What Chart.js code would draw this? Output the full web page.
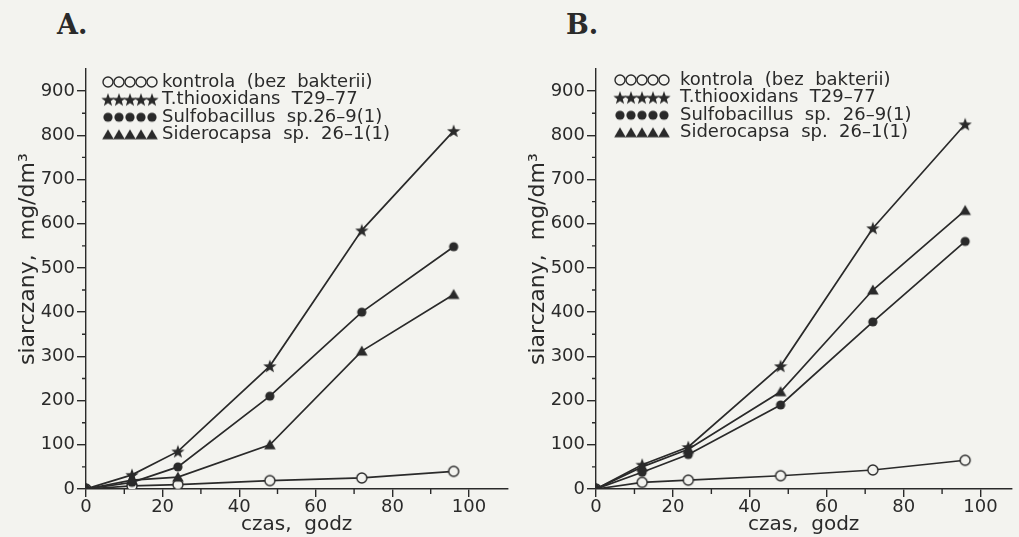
<!DOCTYPE html>
<html>
<head>
<meta charset="utf-8">
<script src="https://cdn.jsdelivr.net/npm/chart.js@4.4.0/dist/chart.umd.min.js"></script>
<style>
  body { margin: 0; background: #f3f3ef; overflow: hidden; width: 1019px; height: 537px; position: relative; }
  .panel { position: absolute; top: 0; height: 537px; }
  .lbl { position: absolute; font: bold 27px "DejaVu Serif", serif; color: #2a2a2a; }
</style>
</head>
<body>
<div class="lbl" style="left:57px;top:9px">A.</div>
<div class="lbl" style="left:566px;top:9px">B.</div>
<div class="panel" style="left:0;width:515px"><canvas id="chartA"></canvas></div>
<div class="panel" style="left:510px;width:509px"><canvas id="chartB"></canvas></div>

<script>
// czas w godzinach
const hours = [0, 12, 24, 48, 72, 96]

const seriesNames = ['kontrola  (bez  bakterii)', 'T.thiooxidans  T29\u201377', 'Sulfobacillus  sp.26\u20139(1)', 'Siderocapsa  sp.  26\u20131(1)']
const seriesNamesB = ['kontrola  (bez  bakterii)', 'T.thiooxidans  T29\u201377', 'Sulfobacillus  sp.  26\u20139(1)', 'Siderocapsa  sp.  26\u20131(1)']

// panel A
const kontrolaA = [0, 7, 10, 19, 25, 40]
const thioA = [0, 32, 85, 278, 585, 810]
const sulfoA = [0, 15, 50, 210, 400, 548]
const sideroA = [0, 20, 27, 100, 312, 440]

// panel B
const kontrolaB = [0, 15, 20, 30, 43, 65]
const thioB = [0, 55, 95, 278, 590, 825]
const sulfoB = [0, 38, 78, 190, 378, 560]
const sideroB = [0, 50, 90, 220, 450, 630]

const yTicks = [0, 100, 200, 300, 400, 500, 600, 700, 800, 900]
const xTicks = [0, 20, 40, 60, 80, 100]

const ink = '#2a2a2a'
const paper = '#f3f3ef'
const font = 'DejaVu Sans'

// marker images
function marker(kind) {
  const c = document.createElement('canvas')
  c.width = 14; c.height = 14
  const g = c.getContext('2d')
  g.fillStyle = ink; g.strokeStyle = ink; g.lineWidth = 1.4
  if (kind === 'open') {
    g.fillStyle = paper
    g.beginPath(); g.arc(7, 7, 5, 0, Math.PI * 2); g.fill(); g.stroke()
  } else if (kind === 'dot') {
    g.beginPath(); g.arc(7, 7, 4.6, 0, Math.PI * 2); g.fill()
  } else if (kind === 'tri') {
    g.beginPath(); g.moveTo(7, 1.5); g.lineTo(12.8, 11.5); g.lineTo(1.2, 11.5); g.closePath(); g.fill()
  } else {
    g.beginPath()
    for (let i = 0; i < 10; i++) {
      const r = i % 2 ? 2.9 : 7
      const a = -Math.PI / 2 + i * Math.PI / 5
      g.lineTo(7 + r * Math.cos(a), 7.6 + r * Math.sin(a))
    }
    g.closePath(); g.fill()
  }
  return c
}
const markers = [marker('open'), marker('star'), marker('dot'), marker('tri')]

const extras = {
  id: 'extras',
  afterDraw(chart, args, opts) {
    const {ctx, chartArea, scales: {x, y}} = chart
    ctx.save()
    ctx.strokeStyle = ink
    ctx.lineWidth = 1.4
    ctx.beginPath()
    for (let v = 50; v < 950; v += 100) {
      const py = y.getPixelForValue(v)
      ctx.moveTo(chartArea.left - 4, py); ctx.lineTo(chartArea.left, py)
    }
    for (let v = 10; v < 100; v += 20) {
      const px = x.getPixelForValue(v)
      ctx.moveTo(px, chartArea.bottom); ctx.lineTo(px, chartArea.bottom + 5)
    }
    ctx.stroke()
    ctx.fillStyle = ink
    // y title
    ctx.save()
    ctx.translate(28, y.getPixelForValue(520))
    ctx.rotate(-Math.PI / 2)
    ctx.font = '22px "' + font + '"'
    ctx.textAlign = 'center'
    ctx.textBaseline = 'middle'
    ctx.fillText('siarczany,  mg/dm\u00b3', 0, 0)
    ctx.restore()
    // legend
    ctx.font = '18px "' + font + '"'
    ctx.textBaseline = 'middle'
    opts.names.forEach((name, i) => {
      const ly = opts.top + i * 17.6
      for (let k = 0; k < 5; k++) {
        ctx.drawImage(markers[i], opts.left + k * 11 - 7, ly - 7)
      }
      ctx.fillText(name, opts.text, ly)
    })
    ctx.restore()
  }
}

function makeChart(id, vals, names, xMax, legend) {
  const datasets = vals.map((v, i) => ({
    label: names[i],
    data: hours.map((h, j) => ({x: h, y: v[j]})),
    borderColor: ink,
    borderWidth: 1.7,
    pointStyle: markers[i],
    pointRadius: 6,
    tension: 0
  }))
  return new Chart(document.getElementById(id), {
    type: 'line',
    data: {datasets: datasets.reverse()},
    plugins: [extras],
    options: {
      responsive: true,
      maintainAspectRatio: false,
      animation: false,
      layout: {padding: {top: 69, right: legend.right, left: 0, bottom: 0}},
      plugins: {
        legend: {display: false},
        tooltip: {enabled: false},
        extras: {names: names, left: legend.left, text: legend.text, top: legend.top}
      },
      scales: {
        x: {
          type: 'linear', min: 0, max: xMax,
          afterFit: s => { s.height = 48 },
          afterBuildTicks: s => { s.ticks = xTicks.map(v => ({value: v})) },
          grid: {drawOnChartArea: false, tickLength: 8, color: ink, lineWidth: 1.4},
          border: {color: ink, width: 1.4},
          ticks: {color: ink, font: {family: font, size: 18}, padding: 0, maxRotation: 0},
          title: {display: true, text: 'czas,  godz', color: ink, font: {family: font, size: 20}, padding: {top: 0, bottom: 0}}
        },
        y: {
          min: 0, max: 950,
          afterFit: s => { s.width = 86 },
          afterBuildTicks: s => { s.ticks = yTicks.map(v => ({value: v})) },
          grid: {drawOnChartArea: false, tickLength: 9, color: ink, lineWidth: 1.4},
          border: {color: ink, width: 1.4},
          ticks: {color: ink, font: {family: font, size: 18}, padding: 2}
        }
      }
    }
  })
}

makeChart('chartA', [kontrolaA, thioA, sulfoA, sideroA], seriesNames, 110, {left: 108, text: 162, top: 82, right: 4})
makeChart('chartB', [kontrolaB, thioB, sulfoB, sideroB], seriesNamesB, 108, {left: 110, text: 170, top: 80, right: 0})
</script>
</body>
</html>
